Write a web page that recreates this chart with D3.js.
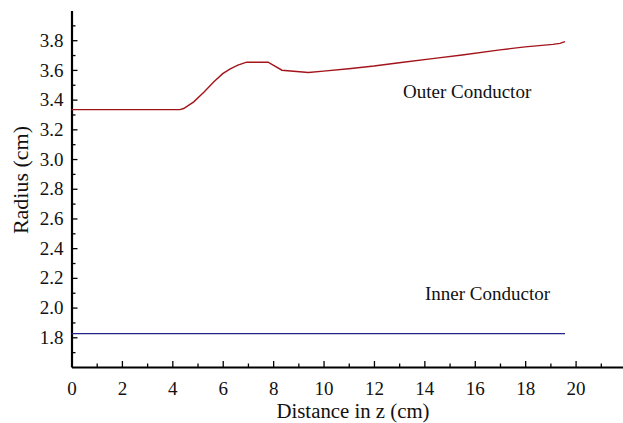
<!DOCTYPE html>
<html>
<head>
<meta charset="utf-8">
<script src="https://cdn.jsdelivr.net/npm/d3@7"></script>
<style>
  body { margin: 0; background: #fff; }
  svg text { font-family: "Liberation Serif", "Times New Roman", serif !important; }
</style>
</head>
<body>
<div id="chart"></div>
<script>
// data
var outerZ = [0, 4.3, 4.45, 4.85, 5.25, 5.65, 6.0, 6.3, 6.6, 6.95, 7.8, 8.35, 9.4, 10.0, 11.0, 12.0, 13.0, 14.4, 15.5, 17.0, 18.0, 19.1, 19.38, 19.58];
var outerR = [3.333, 3.333, 3.34, 3.385, 3.45, 3.52, 3.575, 3.607, 3.632, 3.652, 3.652, 3.598, 3.583, 3.592, 3.608, 3.626, 3.648, 3.678, 3.70, 3.735, 3.755, 3.772, 3.779, 3.79];
var innerZ = [0, 19.58];
var innerR = [1.825, 1.825];

var xMajor = [0, 2, 4, 6, 8, 10, 12, 14, 16, 18, 20];
var xMinor = [1, 3, 5, 7, 9, 11, 13, 15, 17, 19, 21];
var yMajor = [1.8, 2.0, 2.2, 2.4, 2.6, 2.8, 3.0, 3.2, 3.4, 3.6, 3.8];
var yMinor = [1.7, 1.9, 2.1, 2.3, 2.5, 2.7, 2.9, 3.1, 3.3, 3.5, 3.7, 3.9];

var width = 623;
var height = 423;

var svg = d3.select("#chart")
  .append("svg")
  .attr("width", width)
  .attr("height", height);

var xScale = d3.scaleLinear().domain([0, 22]).range([71.5, 626]);
var yScale = d3.scaleLinear().domain([1.6, 4.0]).range([367, 10.5]);

// minor ticks first, no labels
svg.append("g")
  .attr("transform", "translate(0," + yScale(1.6) + ")")
  .call(d3.axisBottom(xScale).tickValues(xMinor).tickSize(-3.5).tickFormat(""))
  .call(function(g) { g.select(".domain").remove(); });

svg.append("g")
  .attr("transform", "translate(" + xScale(0) + ",0)")
  .call(d3.axisLeft(yScale).tickValues(yMinor).tickSize(-4).tickFormat(""))
  .call(function(g) { g.select(".domain").remove(); });

// major ticks with labels
svg.append("g")
  .attr("transform", "translate(0," + yScale(1.6) + ")")
  .call(d3.axisBottom(xScale).tickValues(xMajor).tickSize(-6).tickSizeOuter(0).tickPadding(15).tickFormat(d3.format("d")));

svg.append("g")
  .attr("transform", "translate(" + xScale(0) + ",0)")
  .call(d3.axisLeft(yScale).tickValues(yMajor).tickSize(-6).tickSizeOuter(0).tickPadding(8).tickFormat(d3.format(".1f")));

svg.selectAll(".tick line").attr("stroke", "#000").attr("stroke-width", 1.3);
svg.selectAll(".tick text").attr("fill", "#111").style("font-size", "19px");
svg.selectAll(".domain").attr("stroke", "#000").attr("stroke-width", 2.2);

// the lines
var line = d3.line()
  .x(function(d) { return xScale(d[0]); })
  .y(function(d) { return yScale(d[1]); });

svg.append("path")
  .datum(d3.zip(outerZ, outerR))
  .attr("fill", "none")
  .attr("stroke", "#a3141a")
  .attr("stroke-width", 1.4)
  .attr("d", line);

svg.append("path")
  .datum(d3.zip(innerZ, innerR))
  .attr("fill", "none")
  .attr("stroke", "#23238c")
  .attr("stroke-width", 1.4)
  .attr("d", line);

// labels
svg.append("text")
  .attr("x", 403)
  .attr("y", 98)
  .attr("fill", "#111")
  .style("font-size", "19px")
  .text("Outer Conductor");

svg.append("text")
  .attr("x", 425)
  .attr("y", 300)
  .attr("fill", "#111")
  .style("font-size", "19px")
  .text("Inner Conductor");

svg.append("text")
  .attr("x", 353)
  .attr("y", 418)
  .attr("text-anchor", "middle")
  .attr("fill", "#111")
  .style("font-size", "20.8px")
  .text("Distance in z (cm)");

svg.append("text")
  .attr("transform", "translate(28,180)rotate(-90)")
  .attr("text-anchor", "middle")
  .attr("fill", "#111")
  .style("font-size", "22px")
  .text("Radius (cm)");
</script>
</body>
</html>
